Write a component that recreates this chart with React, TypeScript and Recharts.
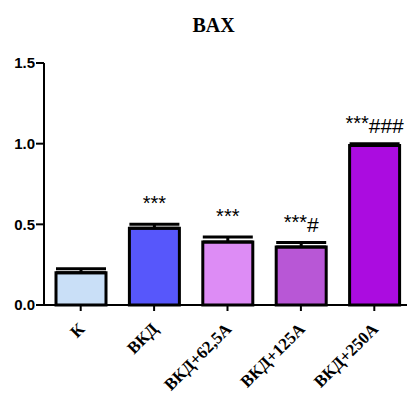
import React from 'react';
import { BarChart, Bar, XAxis, YAxis, Cell, ErrorBar, LabelList } from 'recharts';

const groups = ['К', 'ВКД', 'ВКД+62,5А', 'ВКД+125А', 'ВКД+250А'];
const means = [0.2, 0.475, 0.39, 0.36, 0.988];
const sems = [0.025, 0.025, 0.032, 0.027, 0.012];
const stars = ['', '***', '***', '***', '***'];
const hashes = ['', '', '', '#', '###'];
const yTicks = [0, 0.5, 1.0, 1.5];

const fills = ['#c9dff7', '#5757fb', '#dd8cf5', '#b857d6', '#ab0ce0'];

const rows = groups.map((name, i) => ({
  name,
  i,
  mean: means[i],
  err: [0, sems[i]],
}));

const XTick = ({ x, y, payload }: any) => (
  <text
    x={x + 5}
    y={y + 17}
    transform={`rotate(-45 ${x + 5} ${y + 17})`}
    textAnchor="end"
    fontFamily="'Liberation Serif', 'Times New Roman', serif"
    fontWeight="bold"
    fontSize={17}
    fill="#000"
  >
    {payload.value}
  </text>
);

// stars / hashes sit above the error bar cap
const SigLabel = (props: any) => {
  const { x, y, width, height, value } = props;
  const i = Number(value);
  if (!stars[i] && !hashes[i]) return null;
  const capY = y - (sems[i] * height) / means[i];
  return (
    <text
      x={x + width / 2}
      y={capY - 14}
      textAnchor="middle"
      fontFamily="'Liberation Sans', Arial, sans-serif"
      fill="#000"
    >
      <tspan fontSize={20}>{stars[i]}</tspan>
      <tspan fontSize={21} dy={3}>{hashes[i]}</tspan>
    </text>
  );
};

export default function App() {
  return (
    <div
      style={{
        position: 'absolute',
        left: 0,
        top: 0,
        width: 407,
        height: 395,
        overflow: 'hidden',
        background: '#fff',
      }}
    >
      <div
        style={{
          position: 'absolute',
          left: 10,
          top: 13,
          width: 407,
          textAlign: 'center',
          fontFamily: "'Liberation Serif', 'Times New Roman', serif",
          fontWeight: 'bold',
          fontSize: 20,
          lineHeight: '24px',
        }}
      >
        BAX
      </div>
      <BarChart
        width={411}
        height={395}
        data={rows}
        margin={{ top: 63, right: 0, bottom: 0, left: 0 }}
        barSize={50}
      >
        <YAxis
          width={44}
          domain={[0, 1.5]}
          ticks={yTicks}
          interval={0}
          tickFormatter={(v: number) => v.toFixed(1)}
          axisLine={{ stroke: '#000', strokeWidth: 2 }}
          tickLine={{ stroke: '#000', strokeWidth: 2 }}
          tickSize={8}
          tickMargin={1}
          tick={{
            fill: '#000',
            fontSize: 15,
            fontWeight: 'bold',
            fontFamily: "'Liberation Sans', Arial, sans-serif",
          }}
        />
        <XAxis
          dataKey="name"
          height={90}
          interval={0}
          axisLine={{ stroke: '#000', strokeWidth: 2 }}
          tickLine={{ stroke: '#000', strokeWidth: 2 }}
          tickSize={6}
          tickMargin={2}
          tick={<XTick />}
        />
        <Bar dataKey="mean" stroke="#000" strokeWidth={3} isAnimationActive={false}>
          {rows.map((r) => (
            <Cell key={r.name} fill={fills[r.i]} />
          ))}
          <ErrorBar dataKey="err" direction="y" width={25} stroke="#000" strokeWidth={3} />
          <LabelList dataKey="i" content={<SigLabel />} />
        </Bar>
      </BarChart>
    </div>
  );
}
